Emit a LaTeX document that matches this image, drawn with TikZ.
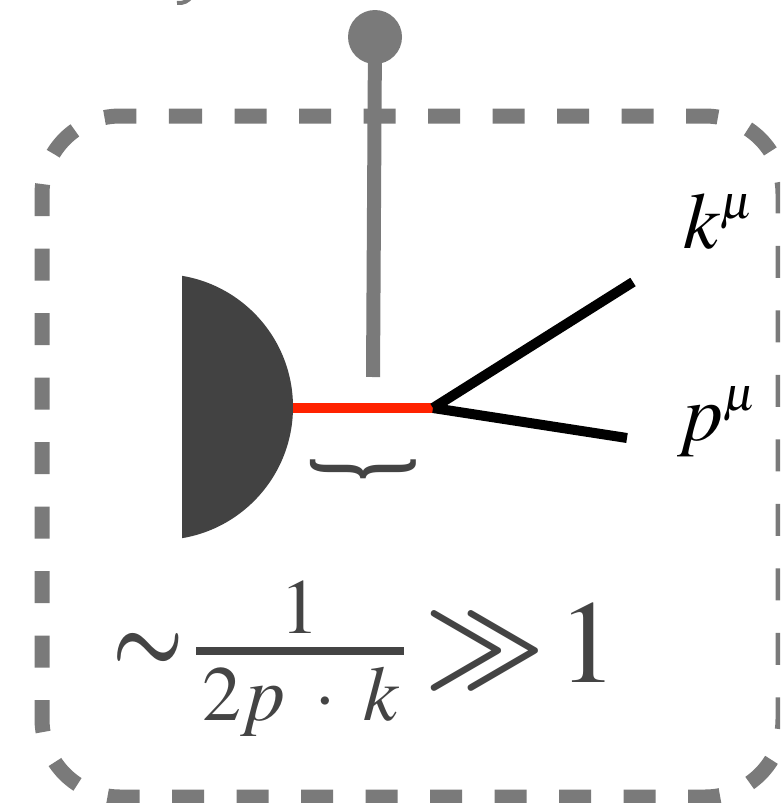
\documentclass[tikz,border=0pt]{standalone}
\usepackage{mathptmx}
\usepackage[no-math]{fontspec}
\newfontfamily\tmsfont{Liberation Serif}
\usepackage{graphicx}
\definecolor{lgrey}{HTML}{7A7A7A}
\definecolor{dgrey}{HTML}{424242}
\definecolor{fgrey}{HTML}{444444}
\definecolor{lred}{HTML}{FF2200}
\newcommand{\bsym}[1]{{\fontencoding{OMS}\fontfamily{cmsy}\fontseries{b}\fontshape{n}\fontsize{10}{10}\selectfont\char#1}}
\tikzset{
  greyline/.style={draw=lgrey, line width=14pt},
  blackline/.style={draw=black, line width=10pt},
  redline/.style={draw=lred, line width=10pt},
  boxline/.style={draw=lgrey, line width=15pt, dash pattern=on 32pt off 32.5pt, rounded corners=78pt},
  lbl/.style={inner sep=0pt, font=\fontsize{80}{82}\selectfont, text=black},
  frm/.style={inner sep=0pt, text=fgrey},
}
\begin{document}
\begin{tikzpicture}[x=1pt,y=-1pt]
\useasboundingbox (0,0) rectangle (780,803);
\clip (0,0) rectangle (780,803);
\fill[white] (0,0) rectangle (780,803);
% fragment of an outside object at the top
\draw[lgrey, line width=4pt] (177,3) to[bend right=30] (192,-4);
% dashed rounded frame
\draw[boxline] (170,116) -- (783,116) -- (783,797) -- (42,797) -- (42,116) -- (170,116);
% blob (circle segment)
\begin{scope}
  \clip (182,200) rectangle (320,620);
  \fill[dgrey] (160,407) circle (133);
\end{scope}
\coordinate (blobedge) at (293,408);
\coordinate (vtx) at (433,408);
\coordinate (kend) at (633,282);
\coordinate (pend) at (627,438);
\coordinate (stemend) at (373,377);
% external line with ball
\node[circle, fill=lgrey, minimum size=54pt, inner sep=0pt] (ball) at (375,37) {};
\draw[greyline] (ball.center) -- (stemend);
% propagator and outgoing lines
\draw[redline] (blobedge) -- (vtx);
\draw[blackline] (vtx) -- (kend);
\draw[blackline] (vtx) -- (pend);
% brace
\node[frm, rotate=-90, font=\fontsize{128}{128}\selectfont\tmsfont\bfseries] (brace) at (363,469) {\scalebox{0.46}[1]{\}}};
% labels
\node[lbl, anchor=base west] (klab) at (683,248) {$k^{\scriptscriptstyle\mu}$};
\node[lbl, anchor=base west] (plab) at (677,440) {$p^{\scriptscriptstyle\mu}$};
% formula
\node[frm, anchor=base] (tilde) at (148,672) {\scalebox{8}[10]{\bsym{"18}}};
\node[frm, anchor=base, font=\fontsize{78}{80}\selectfont] (num) at (300,633) {$1$};
\node[frm, anchor=base, font=\fontsize{78}{80}\selectfont] (den) at (301,720) {$2p\mkern4mu\cdot\mkern4mu k$};
\draw[fgrey, line width=8pt] (196,651) -- (404,651);
\node[frm, anchor=base] (gg) at (485,678) {\scalebox{10.5}[11]{\bsym{"1D}}};
\node[frm, anchor=base, font=\fontsize{118}{118}\selectfont] (one) at (588,682) {$1$};
\end{tikzpicture}
\end{document}
